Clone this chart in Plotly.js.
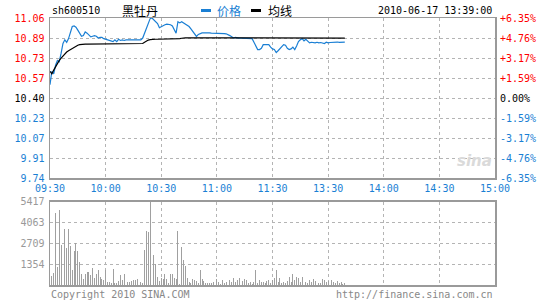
<!DOCTYPE html>
<html><head><meta charset="utf-8">
<script src="https://cdn.plot.ly/plotly-3.0.1.min.js"></script>
<style>html,body{margin:0;padding:0;background:#fff}#c{width:545px;height:300px}</style>
</head><body><div id="c"></div>
<script>
const stockCode = 'sh600510';
const stockName = '黑牡丹';
const stamp = '2010-06-17 13:39:00';
const legendNames = ['价格', '均线'];
const copyrightText = 'Copyright 2010 SINA.COM';
const urlText = 'http://finance.sina.com.cn';

const timeTickVals = [0, 30, 60, 90, 120, 150, 180, 210, 240];
const timeTickText = ['09:30','10:00','10:30','11:00','11:30','13:30','14:00','14:30','15:00'];

const priceTickVals = [9.7396, 9.9047, 10.0698, 10.2349, 10.40, 10.5651, 10.7302, 10.8953, 11.0604];
const priceTickText = ['9.74','9.91','10.07','10.23','10.40','10.57','10.73','10.89','11.06'];
const pctTickText = ['-6.35%','-4.76%','-3.17%','-1.59%','0.00%','+1.59%','+3.17%','+4.76%','+6.35%'];
const tickColors = ['#1a7fd4','#1a7fd4','#1a7fd4','#1a7fd4','#000000','#ff0000','#ff0000','#ff0000','#ff0000'];

const volTickVals = [1354, 2709, 4063, 5417];
const volTickText = ['1354','2709','4063','5417'];

// per-minute price (09:30 .. 13:39)
const price = [
10.51,10.62,10.60,10.67,10.71,10.70,10.77,10.85,10.88,10.86,
10.89,10.95,10.99,10.995,10.985,10.96,10.935,10.91,10.915,10.945,
10.935,10.915,10.905,10.91,10.915,10.91,10.895,10.90,10.90,10.89,
10.885,10.88,10.88,10.87,10.865,10.88,10.865,10.885,10.875,10.88,
10.875,10.88,10.88,10.88,10.88,10.878,10.878,10.875,10.875,10.88,
10.895,10.935,10.99,11.03,11.055,11.06,11.045,11.03,11.015,10.98,
10.99,10.995,11.005,11.01,11.01,11.005,10.995,10.97,10.935,11.03,
11.02,11.03,11.02,11.01,11.00,10.99,10.97,10.95,10.93,10.908,
10.925,10.935,10.938,10.938,10.94,10.94,10.938,10.935,10.935,10.938,
10.938,10.936,10.935,10.935,10.932,10.93,10.925,10.915,10.905,10.895,
10.90,10.895,10.895,10.895,10.895,10.895,10.895,10.895,10.893,10.89,
10.86,10.825,10.80,10.80,10.81,10.84,10.84,10.842,10.84,10.82,
10.805,10.80,10.775,10.79,10.81,10.83,10.84,10.835,10.81,10.80,
10.805,10.82,10.80,10.83,10.866,10.88,10.89,10.872,10.885,10.87,
10.855,10.86,10.858,10.855,10.86,10.855,10.858,10.855,10.85,10.86,
10.855,10.858,10.86,10.856,10.86,10.862,10.86,10.862,10.862,10.862
];

const avgPrice = [
10.62,10.60,10.63,10.66,10.69,10.71,10.73,10.75,10.765,10.78,
10.79,10.80,10.81,10.82,10.828,10.835,10.84,10.843,10.845,10.845,
10.845,10.845,10.845,10.845,10.845,10.845,10.845,10.845,10.845,10.845,
10.845,10.845,10.845,10.845,10.845,10.845,10.845,10.845,10.845,10.845,
10.845,10.845,10.845,10.845,10.845,10.845,10.845,10.845,10.845,10.845,
10.85,10.86,10.87,10.878,10.882,10.885,10.885,10.885,10.885,10.885,
10.885,10.885,10.885,10.885,10.885,10.885,10.885,10.885,10.885,10.885,
10.89,10.893,10.897,10.897,10.897,10.897,10.897,10.897,10.897,10.897,
10.897,10.897,10.897,10.897,10.897,10.897,10.897,10.897,10.897,10.897,
10.897,10.897,10.897,10.897,10.897,10.897,10.897,10.897,10.897,10.897,
10.897,10.897,10.897,10.897,10.897,10.897,10.897,10.897,10.897,10.897,
10.897,10.897,10.897,10.897,10.897,10.897,10.897,10.897,10.897,10.897,
10.897,10.897,10.897,10.897,10.897,10.897,10.897,10.897,10.897,10.897,
10.897,10.897,10.897,10.897,10.897,10.897,10.894,10.894,10.894,10.894,
10.894,10.894,10.894,10.894,10.894,10.894,10.894,10.894,10.894,10.894,
10.894,10.894,10.894,10.894,10.894,10.894,10.894,10.894,10.894,10.894
];

const volume = [
365,560,795,4665,1180,4840,2620,1760,3630,2410,
3630,2515,946,2236,2730,2236,1505,688,365,688,
860,860,623,1075,473,688,946,537,408,322,
946,215,215,150,1010,150,150,258,623,301,
731,322,215,215,258,301,301,408,150,215,
150,2300,3483,3440,5417,2085,1978,1333,537,258,
473,365,731,365,150,688,688,473,365,3526,
86,2450,1590,1225,473,172,150,365,344,258,
129,946,408,258,150,129,150,107,194,258,
365,215,86,301,150,215,107,344,172,430,
194,301,470,215,258,408,301,150,215,86,
194,985,150,301,215,172,129,258,344,107,
301,430,946,215,430,150,215,107,258,516,
215,731,301,516,430,215,494,344,172,129,
301,215,408,258,344,150,107,408,301,172,
258,430,344,215,150,258,107,172,86,129
];

const minute = price.map((_, i) => i);
const mono = 'DejaVu Sans Mono, Liberation Mono, monospace';
const cjk = 'Noto Sans CJK SC, sans-serif';
const blue = '#1a7fd4';
const frame = '#9a9a9a';
const grid = '#b4b4b4';

const leftText = priceTickText.map((t, i) => `<span style="color:${tickColors[i]}">${t}</span>`);
const rightText = pctTickText.map((t, i) => `<span style="color:${tickColors[i]}">${t}</span>`);

// pixel helpers for paper coordinates (plot area x:50..495, y:18..285)
const PX = px => (px - 50) / 445;
const PY = py => (285 - py) / 267;

const traces = [
  {x: minute, y: volume, type: 'bar', xaxis: 'x2', yaxis: 'y2',
   marker: {color: '#a0a0a0', line: {width: 0}}, width: 0.5, hoverinfo: 'skip'},
  {x: minute, y: price, type: 'scatter', mode: 'lines', xaxis: 'x', yaxis: 'y',
   line: {color: blue, width: 1.2}, hoverinfo: 'skip'},
  {x: minute, y: avgPrice, type: 'scatter', mode: 'lines', xaxis: 'x', yaxis: 'y',
   line: {color: '#000000', width: 1.2}, hoverinfo: 'skip'},
  {x: [minute[0]], y: [price[0]], type: 'scatter', mode: 'markers', xaxis: 'x', yaxis: 'y3',
   marker: {opacity: 0}, hoverinfo: 'skip'}
];

const axisCommon = {
  showgrid: true, gridcolor: grid, griddash: 'dot', gridwidth: 1,
  showline: true, mirror: true, linecolor: frame, linewidth: 1.5,
  zeroline: false, ticks: '', fixedrange: true
};

const layout = {
  width: 545, height: 300,
  margin: {l: 50, r: 50, t: 18, b: 15},
  paper_bgcolor: '#ffffff', plot_bgcolor: '#ffffff',
  showlegend: false, hovermode: false, bargap: 0,
  xaxis: Object.assign({}, axisCommon, {
    domain: [0, 1], range: [0, 240], anchor: 'y',
    tickmode: 'array', tickvals: timeTickVals, ticktext: timeTickText,
    tickfont: {family: mono, size: 10, color: blue}
  }),
  yaxis: Object.assign({}, axisCommon, {
    domain: [PY(178), 1], range: [priceTickVals[0], priceTickVals[priceTickVals.length - 1]],
    anchor: 'x', tickmode: 'array', tickvals: priceTickVals, ticktext: leftText,
    tickfont: {family: mono, size: 10, color: '#000'}, ticklabelstandoff: 2
  }),
  yaxis3: {
    overlaying: 'y', side: 'right', anchor: 'x',
    range: [priceTickVals[0], priceTickVals[priceTickVals.length - 1]],
    tickmode: 'array', tickvals: priceTickVals, ticktext: rightText,
    tickfont: {family: mono, size: 10, color: '#000'}, ticklabelstandoff: 4,
    showgrid: false, zeroline: false, showline: false, ticks: '', fixedrange: true
  },
  xaxis2: Object.assign({}, axisCommon, {
    domain: [0, 1], range: [0, 240], anchor: 'y2', matches: 'x',
    tickmode: 'array', tickvals: timeTickVals, showticklabels: false
  }),
  yaxis2: Object.assign({}, axisCommon, {
    domain: [0, PY(201.5)], range: [0, volTickVals[volTickVals.length - 1]], anchor: 'x2',
    tickmode: 'array', tickvals: volTickVals, ticktext: volTickText,
    tickfont: {family: mono, size: 10, color: '#999999'}, ticklabelstandoff: 2
  }),
  shapes: [
    {type: 'rect', xref: 'paper', yref: 'paper', x0: PX(201), x1: PX(211), y0: PY(12), y1: PY(9),
     fillcolor: blue, line: {width: 0}},
    {type: 'rect', xref: 'paper', yref: 'paper', x0: PX(251), x1: PX(261), y0: PY(12), y1: PY(9),
     fillcolor: '#000', line: {width: 0}}
  ],
  annotations: [
    {text: stockCode, xref: 'paper', yref: 'paper', x: PX(50), y: PY(11), xanchor: 'left', yanchor: 'middle',
     showarrow: false, font: {family: mono, size: 10, color: '#000'}},
    {text: stockName, xref: 'paper', yref: 'paper', x: PX(120), y: PY(11), xanchor: 'left', yanchor: 'middle',
     showarrow: false, font: {family: cjk, size: 12, color: '#000'}},
    {text: legendNames[0], xref: 'paper', yref: 'paper', x: PX(215), y: PY(11), xanchor: 'left', yanchor: 'middle',
     showarrow: false, font: {family: cjk, size: 12, color: blue}},
    {text: legendNames[1], xref: 'paper', yref: 'paper', x: PX(266), y: PY(11), xanchor: 'left', yanchor: 'middle',
     showarrow: false, font: {family: cjk, size: 12, color: '#000'}},
    {text: stamp, xref: 'paper', yref: 'paper', x: PX(494), y: PY(11), xanchor: 'right', yanchor: 'middle',
     showarrow: false, font: {family: mono, size: 10, color: '#000'}},
    {text: copyrightText, xref: 'paper', yref: 'paper', x: PX(49), y: PY(294), xanchor: 'left', yanchor: 'middle',
     showarrow: false, font: {family: mono, size: 10, color: '#888'}},
    {text: urlText, xref: 'paper', yref: 'paper', x: PX(495), y: PY(294), xanchor: 'right', yanchor: 'middle',
     showarrow: false, font: {family: mono, size: 10, color: '#888'}},
    {text: '<b><i>sina</i></b>', xref: 'paper', yref: 'paper', x: PX(474), y: PY(161), xanchor: 'center', yanchor: 'middle',
     showarrow: false, font: {family: 'DejaVu Sans, sans-serif', size: 15, color: '#dadada'}}
  ]
};

Plotly.newPlot('c', traces, layout, {staticPlot: true, displayModeBar: false});
</script>
</body></html>
